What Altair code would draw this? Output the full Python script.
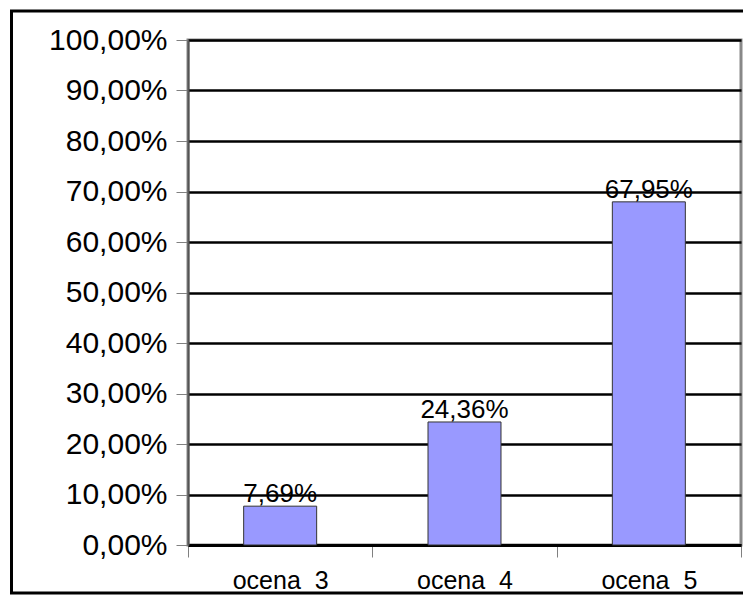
import altair as alt
import pandas as pd

categories = ["ocena\u00a0 3", "ocena\u00a0 4", "ocena\u00a0 5"]
values = [7.69, 24.36, 67.95]
y_ticks = [0, 10, 20, 30, 40, 50, 60, 70, 80, 90, 100]

df = pd.DataFrame({"cat": categories, "val": values})

W, H = 553, 505
PAD = {"left": 180, "top": 32, "right": 2, "bottom": 50}

base = alt.Chart(df)

bars = base.mark_bar(color="#9999FF", stroke="#333333", strokeWidth=1,
                     width=alt.RelativeBandSize(0.396)).encode(
    x=alt.X("cat:N", sort=categories, title=None,
            scale=alt.Scale(paddingInner=0, paddingOuter=0),
            axis=alt.Axis(labelAngle=0, labelFontSize=25, labelColor="black",
                          labelFont="Liberation Sans", labelBaseline="alphabetic",
                          labelPadding=31, tickSize=12, tickColor="#808080",
                          tickWidth=1, tickBand="extent", domainColor="black",
                          domainWidth=3, grid=False)),
    y=alt.Y("val:Q", title=None,
            scale=alt.Scale(domain=[0, 100], nice=False),
            axis=alt.Axis(values=y_ticks,
                          labelExpr="replace(format(datum.value, '.2f'), '.', ',') + '%'",
                          labelFontSize=30, labelColor="black", labelFont="Liberation Sans",
                          labelPadding=9, tickSize=12, tickColor="#808080", tickWidth=1,
                          domainColor="#555555", domainWidth=2,
                          grid=True, gridColor="black", gridWidth=2.5, gridOpacity=1)),
)

labels = base.transform_calculate(
    lbl="replace(format(datum.val, '.2f'), '.', ',') + '%'"
).mark_text(baseline="alphabetic", dy=-4, fontSize=26, font="Liberation Sans",
            color="black", align="center").encode(
    x=alt.X("cat:N", sort=categories),
    y="val:Q",
    text="lbl:N",
)

border = alt.Chart(alt.Data(values=[{}])).mark_rect(
    filled=False, stroke="black", strokeWidth=3
).encode(
    x=alt.value(-176.5), x2=alt.value(W + 40),
    y=alt.value(-29), y2=alt.value(H + PAD["bottom"] - 2),
)

chart = alt.layer(bars, labels, border).properties(
    width=W, height=H,
    autosize=alt.AutoSizeParams(type="none"),
    padding=PAD,
    background="white",
).configure_view(stroke="#888888", strokeWidth=3)

chart.save("out.html", embed_options={"renderer": "svg", "actions": False})
